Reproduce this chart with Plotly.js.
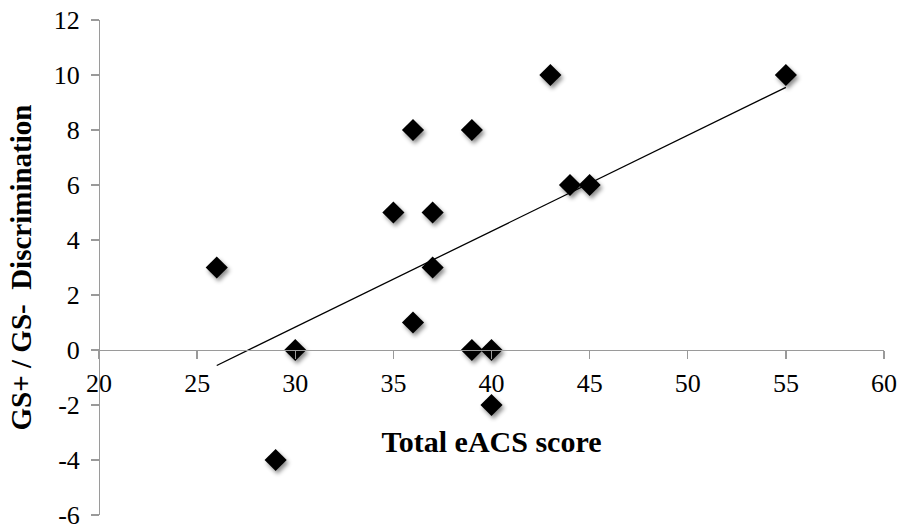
<!DOCTYPE html>
<html>
<head>
<meta charset="utf-8">
<script src="https://cdn.plot.ly/plotly-3.0.1.min.js"></script>
<style>
  html, body { margin: 0; padding: 0; background: #fff; }
  #chart { width: 899px; height: 529px; }
  .scatterlayer .trace:last-child .point { filter: drop-shadow(2px 3px 2px rgba(0,0,0,0.45)); }
</style>
</head>
<body>
<div id="chart"></div>
<script>
// Data
const eacsScore = [26, 29, 30, 35, 36, 36, 37, 37, 39, 39, 40, 40, 43, 44, 45, 55];
const discrimination = [3, -4, 0, 5, 8, 1, 5, 3, 8, 0, 0, -2, 10, 6, 6, 10];
const xTickVals = [20, 25, 30, 35, 40, 45, 50, 55, 60];
const yTickVals = [-6, -4, -2, 0, 2, 4, 6, 8, 10, 12];
const xTitle = "Total eACS score";
const yTitle = "GS+ / GS-  Discrimination";

// Linear trend line (least squares) over the data's x extent
const n = eacsScore.length;
const mx = eacsScore.reduce((a, b) => a + b, 0) / n;
const my = discrimination.reduce((a, b) => a + b, 0) / n;
let sxy = 0, sxx = 0;
for (let i = 0; i < n; i++) {
  sxy += (eacsScore[i] - mx) * (discrimination[i] - my);
  sxx += (eacsScore[i] - mx) * (eacsScore[i] - mx);
}
const slope = sxy / sxx;
const intercept = my - slope * mx;
const xMin = Math.min(...eacsScore), xMax = Math.max(...eacsScore);
const trendX = [xMin, xMax];
const trendY = trendX.map(v => intercept + slope * v);

const FONT = "Liberation Serif";
const AXIS = "#9a9a9a";

const traces = [
  {
    x: trendX, y: trendY, type: "scatter", mode: "lines",
    line: { color: "#000", width: 1.3 }, hoverinfo: "skip", showlegend: false
  },
  {
    x: eacsScore, y: discrimination, type: "scatter", mode: "markers",
    marker: { symbol: "diamond", size: 17, color: "#000" }, showlegend: false
  }
];

const layout = {
  width: 899, height: 529,
  margin: { l: 99, r: 15, t: 20, b: 14 },
  paper_bgcolor: "#fff", plot_bgcolor: "#fff",
  font: { family: FONT, color: "#000", size: 26 },
  xaxis: {
    range: [20, 60], tickvals: xTickVals, ticktext: xTickVals.map(String),
    anchor: "free", position: 6 / 18,
    showline: true, linecolor: AXIS, linewidth: 1.3,
    ticks: "outside", ticklen: 8, tickcolor: AXIS, tickwidth: 1.3,
    showgrid: false, zeroline: false,
    tickfont: { family: FONT, size: 26, color: "#000" },
    ticklabelstandoff: 1, ticklabeloverflow: "allow",
    title: { text: xTitle, font: { family: FONT, size: 30, color: "#000", weight: "bold" }, standoff: 34 }
  },
  yaxis: {
    range: [-6, 12], tickvals: yTickVals, ticktext: yTickVals.map(String),
    anchor: "free", position: 0,
    showline: true, linecolor: AXIS, linewidth: 1.3,
    ticks: "outside", ticklen: 8, tickcolor: AXIS, tickwidth: 1.3,
    showgrid: false, zeroline: false,
    tickfont: { family: FONT, size: 26, color: "#000" },
    ticklabelstandoff: 6, ticklabeloverflow: "allow",
    title: { text: yTitle, font: { family: FONT, size: 29, color: "#000", weight: "bold" }, standoff: 12 }
  },
  showlegend: false
};

Plotly.newPlot("chart", traces, layout, { displayModeBar: false, staticPlot: true });
</script>
</body>
</html>
